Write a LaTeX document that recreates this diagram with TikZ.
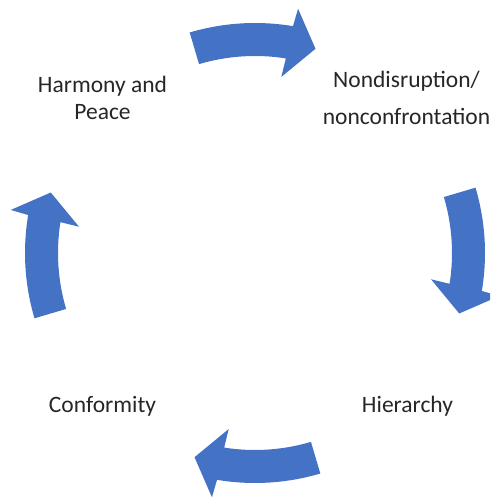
\documentclass[tikz,border=0pt]{standalone}
\usepackage{fontspec}
\setmainfont{Carlito}
\usepackage{xcolor}
\usetikzlibrary{positioning}

\definecolor{cycleblue}{HTML}{4472C4}

% one curved block arrow of the cycle, #1 = direction of its middle
\newcommand{\cyclearrow}[1]{%
    \begin{scope}[shift={(255,244)}]
        \fill[cycleblue] (#1+16.5:230) arc[start angle=#1+16.5, end angle=#1-9.5, radius=230]
            -- (#1-10:248) -- (#1-16.5:213) -- (#1-8.5:178) -- (#1-9:197)
            arc[start angle=#1-9, end angle=#1+16.5, radius=197] -- cycle;
    \end{scope}}

\begin{document}
\begin{tikzpicture}[
        x=1pt, y=1pt,
        label/.style={inner sep=0pt, align=center, text=black!85, font=\fontsize{23.5}{27}\selectfont}
    ]
        \clip (0,0) rectangle (490,497);
        \useasboundingbox (0,0) rectangle (490,497);

        % Arrows
        \cyclearrow{90}
        \cyclearrow{0}
        \cyclearrow{-90}
        \cyclearrow{180}

        % Labels
        \node[label, anchor=base] (harmony) at (102.5,377) {Harmony and\\Peace};
        \node[label, anchor=base, font=\fontsize{23.5}{37}\selectfont] (nondisrupt) at (406.5,372) {Nondisruption/\\nonconfrontation};
        \node[label, anchor=base] (conformity) at (102.5,84) {Conformity};
        \node[label, anchor=base] (hierarchy) at (407.5,84) {Hierarchy};

    \end{tikzpicture}
\end{document}
